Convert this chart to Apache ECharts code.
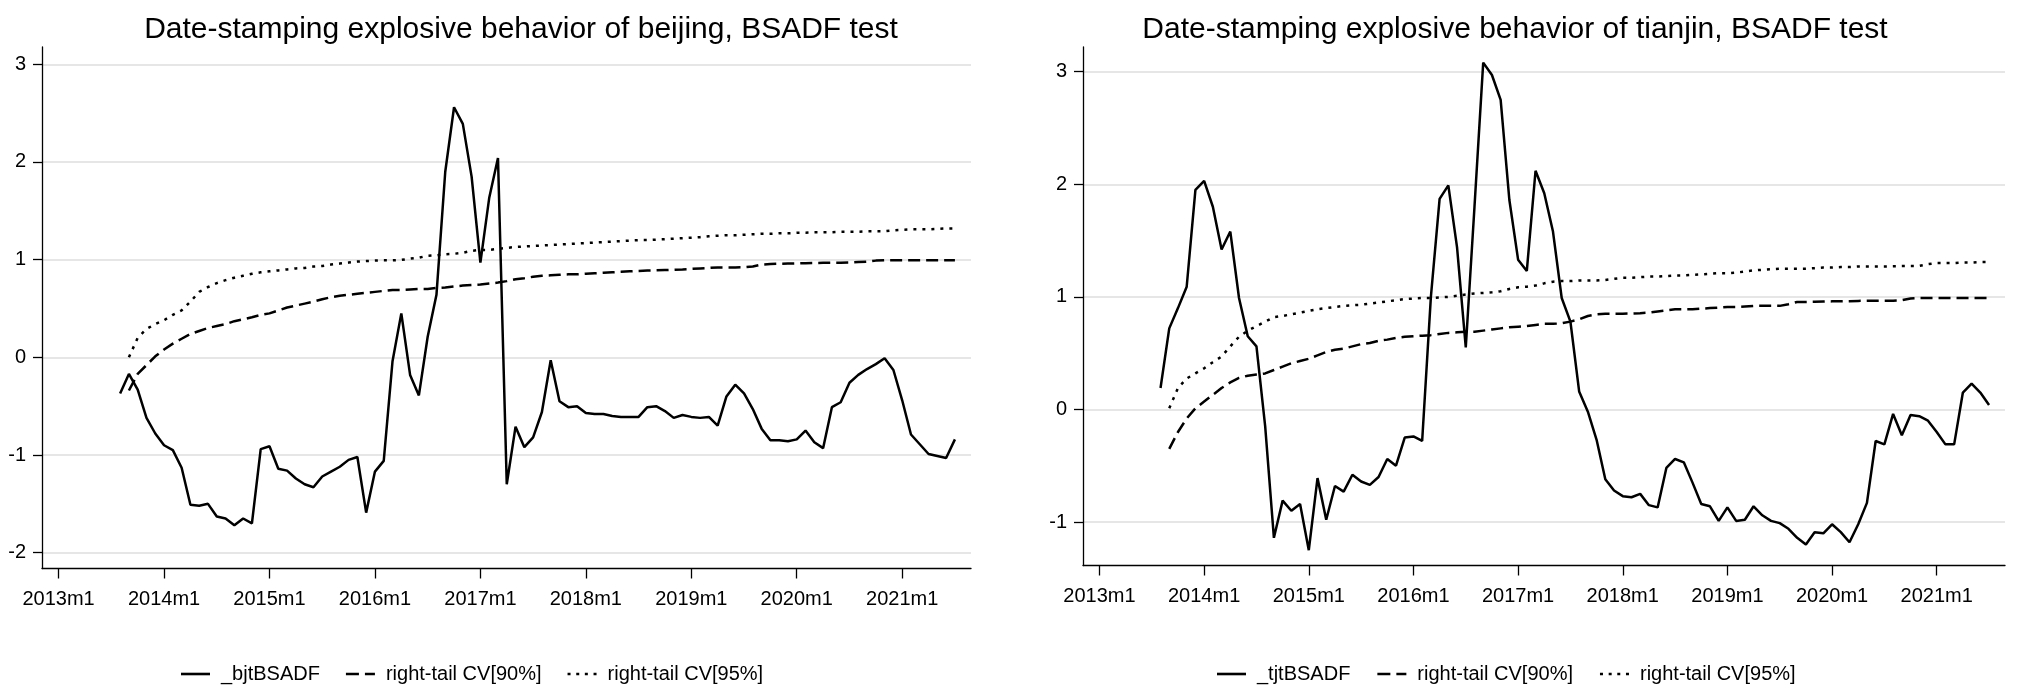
<!DOCTYPE html>
<html>
<head>
<meta charset="utf-8">
<script src="https://cdn.jsdelivr.net/npm/echarts@6/dist/echarts.min.js"></script>
<style>
html,body{margin:0;padding:0;background:#fff;}
#chart{width:2026px;height:699px;}
</style>
</head>
<body>
<div id="chart"></div>
<script>
// x positions are month indices: 0 = 2013m1
const xTickMonths = [0, 12, 24, 36, 48, 60, 72, 84, 96];
const xTickLabels = ['2013m1','2014m1','2015m1','2016m1','2017m1','2018m1','2019m1','2020m1','2021m1'];
const yTicksBJ = [-2, -1, 0, 1, 2, 3];
const yTicksTJ = [-1, 0, 1, 2, 3];
const bsadfStart = 7;   // 2013m8
const cvStart = 8;      // 2013m9

const bjBSADF = [-0.37,-0.17,-0.33,-0.62,-0.78,-0.90,-0.95,-1.13,-1.51,-1.52,-1.50,-1.63,-1.65,-1.72,-1.65,-1.70,
  -0.94,-0.91,-1.14,-1.16,-1.24,-1.30,-1.33,-1.22,-1.17,-1.12,-1.05,-1.02,-1.59,-1.17,-1.06,-0.04,0.45,-0.18,-0.39,
  0.21,0.64,1.90,2.56,2.39,1.85,0.97,1.63,2.04,-1.30,-0.71,-0.92,-0.82,-0.56,-0.03,-0.45,-0.51,-0.50,-0.57,-0.58,
  -0.58,-0.60,-0.61,-0.61,-0.61,-0.51,-0.50,-0.55,-0.62,-0.59,-0.61,-0.62,-0.61,-0.70,-0.40,-0.28,-0.37,-0.53,-0.73,
  -0.85,-0.85,-0.86,-0.84,-0.75,-0.87,-0.93,-0.51,-0.46,-0.26,-0.18,-0.12,-0.07,-0.01,-0.13,-0.44,-0.79,-0.89,-0.99,
  -1.01,-1.03,-0.84];
const bjCV90 = [-0.34,-0.17,-0.08,0.01,0.08,0.14,0.19,0.24,0.27,0.30,0.32,0.34,0.37,0.39,0.41,0.435,0.45,0.48,0.51,
  0.53,0.55,0.57,0.595,0.615,0.63,0.64,0.65,0.66,0.67,0.68,0.69,0.69,0.695,0.70,0.70,0.71,0.715,0.725,0.735,0.74,
  0.745,0.755,0.765,0.78,0.80,0.81,0.825,0.835,0.84,0.845,0.85,0.85,0.855,0.86,0.865,0.87,0.875,0.88,0.885,0.888,
  0.89,0.893,0.896,0.90,0.905,0.91,0.915,0.92,0.92,0.92,0.922,0.93,0.95,0.955,0.958,0.96,0.962,0.964,0.966,0.968,
  0.968,0.968,0.97,0.975,0.98,0.99,0.995,0.995,0.995,0.995,0.995,0.995,0.995,0.995,0.995];
const bjCV95 = [0.00,0.20,0.29,0.34,0.38,0.435,0.48,0.57,0.67,0.72,0.76,0.79,0.815,0.835,0.855,0.87,0.88,0.89,0.90,
  0.91,0.915,0.93,0.935,0.95,0.96,0.97,0.98,0.985,0.99,0.993,0.993,0.997,1.01,1.02,1.04,1.045,1.055,1.06,1.07,1.09,
  1.10,1.10,1.11,1.12,1.13,1.135,1.14,1.145,1.15,1.155,1.16,1.165,1.17,1.175,1.18,1.185,1.19,1.195,1.20,1.20,1.205,
  1.21,1.215,1.22,1.225,1.23,1.24,1.245,1.25,1.25,1.255,1.26,1.265,1.265,1.27,1.27,1.275,1.275,1.28,1.28,1.28,1.285,
  1.285,1.285,1.29,1.29,1.29,1.30,1.305,1.31,1.31,1.31,1.315,1.32,1.32];

const tjBSADF = [0.19,0.72,0.90,1.09,1.95,2.03,1.80,1.42,1.58,0.99,0.65,0.56,-0.15,-1.14,-0.81,-0.90,-0.84,-1.25,
  -0.61,-0.98,-0.68,-0.73,-0.58,-0.64,-0.67,-0.60,-0.44,-0.50,-0.25,-0.24,-0.28,1.00,1.87,1.99,1.44,0.55,1.80,3.08,
  2.97,2.75,1.86,1.33,1.23,2.12,1.92,1.58,0.99,0.78,0.16,-0.02,-0.27,-0.62,-0.72,-0.77,-0.78,-0.75,-0.85,-0.87,
  -0.52,-0.44,-0.47,-0.65,-0.84,-0.86,-0.99,-0.87,-0.99,-0.98,-0.86,-0.94,-0.99,-1.01,-1.06,-1.14,-1.20,-1.09,-1.10,
  -1.02,-1.09,-1.18,-1.02,-0.83,-0.28,-0.31,-0.04,-0.23,-0.05,-0.06,-0.10,-0.20,-0.31,-0.31,0.15,0.23,0.15,0.04];
const tjCV90 = [-0.35,-0.20,-0.08,0.01,0.07,0.13,0.19,0.24,0.28,0.30,0.31,0.32,0.35,0.38,0.41,0.43,0.45,0.48,0.51,
  0.53,0.54,0.56,0.58,0.59,0.61,0.62,0.635,0.645,0.65,0.655,0.66,0.67,0.68,0.685,0.69,0.69,0.70,0.71,0.72,0.73,
  0.735,0.74,0.75,0.76,0.76,0.765,0.78,0.80,0.83,0.845,0.85,0.85,0.85,0.852,0.855,0.86,0.87,0.88,0.89,0.89,0.89,
  0.895,0.90,0.905,0.91,0.91,0.915,0.92,0.92,0.92,0.92,0.935,0.955,0.955,0.956,0.958,0.96,0.96,0.962,0.964,0.965,
  0.965,0.965,0.966,0.97,0.985,0.99,0.99,0.99,0.99,0.99,0.99,0.99,0.99,0.99];
const tjCV95 = [0.01,0.19,0.275,0.32,0.365,0.42,0.47,0.56,0.645,0.70,0.74,0.78,0.82,0.83,0.845,0.86,0.875,0.89,0.90,
  0.91,0.92,0.925,0.93,0.94,0.95,0.96,0.97,0.98,0.985,0.99,0.99,0.995,1.00,1.01,1.02,1.03,1.035,1.04,1.05,1.07,
  1.085,1.09,1.10,1.12,1.135,1.14,1.14,1.145,1.145,1.145,1.15,1.16,1.17,1.17,1.175,1.18,1.18,1.185,1.19,1.19,1.195,
  1.20,1.205,1.21,1.21,1.215,1.225,1.235,1.24,1.245,1.25,1.25,1.25,1.25,1.255,1.26,1.26,1.265,1.265,1.27,1.27,1.27,
  1.27,1.272,1.273,1.275,1.275,1.29,1.30,1.30,1.30,1.305,1.305,1.31,1.31];

const FONT = 'Liberation Sans, Arial, Helvetica, sans-serif';
const pairs = (start, arr) => arr.map((v, i) => [start + i, v]);
const legendNames = {
  bj0: '_bjtBSADF', bj1: 'right-tail CV[90%]', bj2: 'right-tail CV[95%]',
  tj0: '_tjtBSADF', tj1: 'right-tail CV[90%]', tj2: 'right-tail CV[95%]'
};
// legend key glyphs (solid, dashed, dotted strokes)
const ICON_SOLID = 'path://M0,0H29V2.6H0Z';
const ICON_DASH = 'path://M0,0H13V2.6H0ZM19,0H29V2.6H19Z';
const ICON_DOT = 'path://M0,0H3V2.6H0ZM8.7,0H11.7V2.6H8.7ZM17.3,0H20.3V2.6H17.3ZM26,0H29V2.6H26Z';

function xAxisDef(gridIndex) {
  return {
    type: 'value', gridIndex: gridIndex, min: -1.89, max: 103.83,
    axisLine: { show: true, onZero: false, lineStyle: { color: '#000', width: 1.3 } },
    axisTick: { show: true, length: 10, customValues: xTickMonths, lineStyle: { color: '#000', width: 1.3 } },
    axisLabel: {
      customValues: xTickMonths, margin: 21, color: '#000', fontSize: 20, fontFamily: FONT,
      formatter: v => xTickLabels[xTickMonths.indexOf(v)]
    },
    splitLine: { show: false }
  };
}
function yAxisDef(gridIndex, mn, mx, ticks) {
  return {
    type: 'value', gridIndex: gridIndex, min: mn, max: mx,
    axisLine: { show: true, onZero: false, lineStyle: { color: '#000', width: 1.3 } },
    axisTick: { show: true, length: 9, customValues: ticks, lineStyle: { color: '#000', width: 1.3 } },
    axisLabel: { customValues: ticks, margin: 16, color: '#000', fontSize: 20, fontFamily: FONT },
    splitLine: { show: true, lineStyle: { color: '#e6e6e6', width: 2 } }
  };
}
function lineSeries(id, xi, start, arr, dash) {
  return {
    type: 'line', name: id, xAxisIndex: xi, yAxisIndex: xi,
    data: pairs(start, arr), symbol: 'none', showSymbol: false, smooth: false,
    lineStyle: { color: '#000', width: 2.5, type: dash, cap: 'butt' },
    itemStyle: { color: '#000' },
    emphasis: { disabled: true }, silent: true
  };
}
function legendDef(left, gap, names) {
  const icons = [ICON_SOLID, ICON_DASH, ICON_DOT];
  return {
    left: left, top: 659, orient: 'horizontal', itemWidth: 29, itemHeight: 14, itemGap: gap,
    symbolKeepAspect: true,
    data: names.map((n, i) => ({ name: n, icon: icons[i] })), selectedMode: false,
    itemStyle: { color: '#000', borderWidth: 0 },
    textStyle: { color: '#000', fontSize: 20, fontFamily: FONT, padding: [0, 0, 0, 6] },
    formatter: n => legendNames[n]
  };
}

const chart = echarts.init(document.getElementById('chart'), null, { renderer: 'canvas' });
chart.setOption({
  animation: false,
  backgroundColor: '#fff',
  title: [
    { text: 'Date-stamping explosive behavior of beijing, BSADF test', left: 516, top: 10, textAlign: 'center',
      textStyle: { color: '#000', fontSize: 30, fontWeight: 'normal', fontFamily: FONT } },
    { text: 'Date-stamping explosive behavior of tianjin, BSADF test', left: 1510, top: 10, textAlign: 'center',
      textStyle: { color: '#000', fontSize: 30, fontWeight: 'normal', fontFamily: FONT } }
  ],
  grid: [
    { left: 42, top: 47, width: 929, height: 521.5, containLabel: false },
    { left: 1083, top: 47, width: 922, height: 518.5, containLabel: false }
  ],
  xAxis: [xAxisDef(0), xAxisDef(1)],
  yAxis: [yAxisDef(0, -2.162, 3.177, yTicksBJ), yAxisDef(1, -1.386, 3.219, yTicksTJ)],
  legend: [legendDef(176, 26, ['bj0', 'bj1', 'bj2']), legendDef(1212, 27, ['tj0', 'tj1', 'tj2'])],
  series: [
    lineSeries('bj0', 0, bsadfStart, bjBSADF, 'solid'),
    lineSeries('bj1', 0, cvStart, bjCV90, [12, 6]),
    lineSeries('bj2', 0, cvStart, bjCV95, [3, 6]),
    lineSeries('tj0', 1, bsadfStart, tjBSADF, 'solid'),
    lineSeries('tj1', 1, cvStart, tjCV90, [12, 6]),
    lineSeries('tj2', 1, cvStart, tjCV95, [3, 6])
  ]
});
</script>
</body>
</html>
